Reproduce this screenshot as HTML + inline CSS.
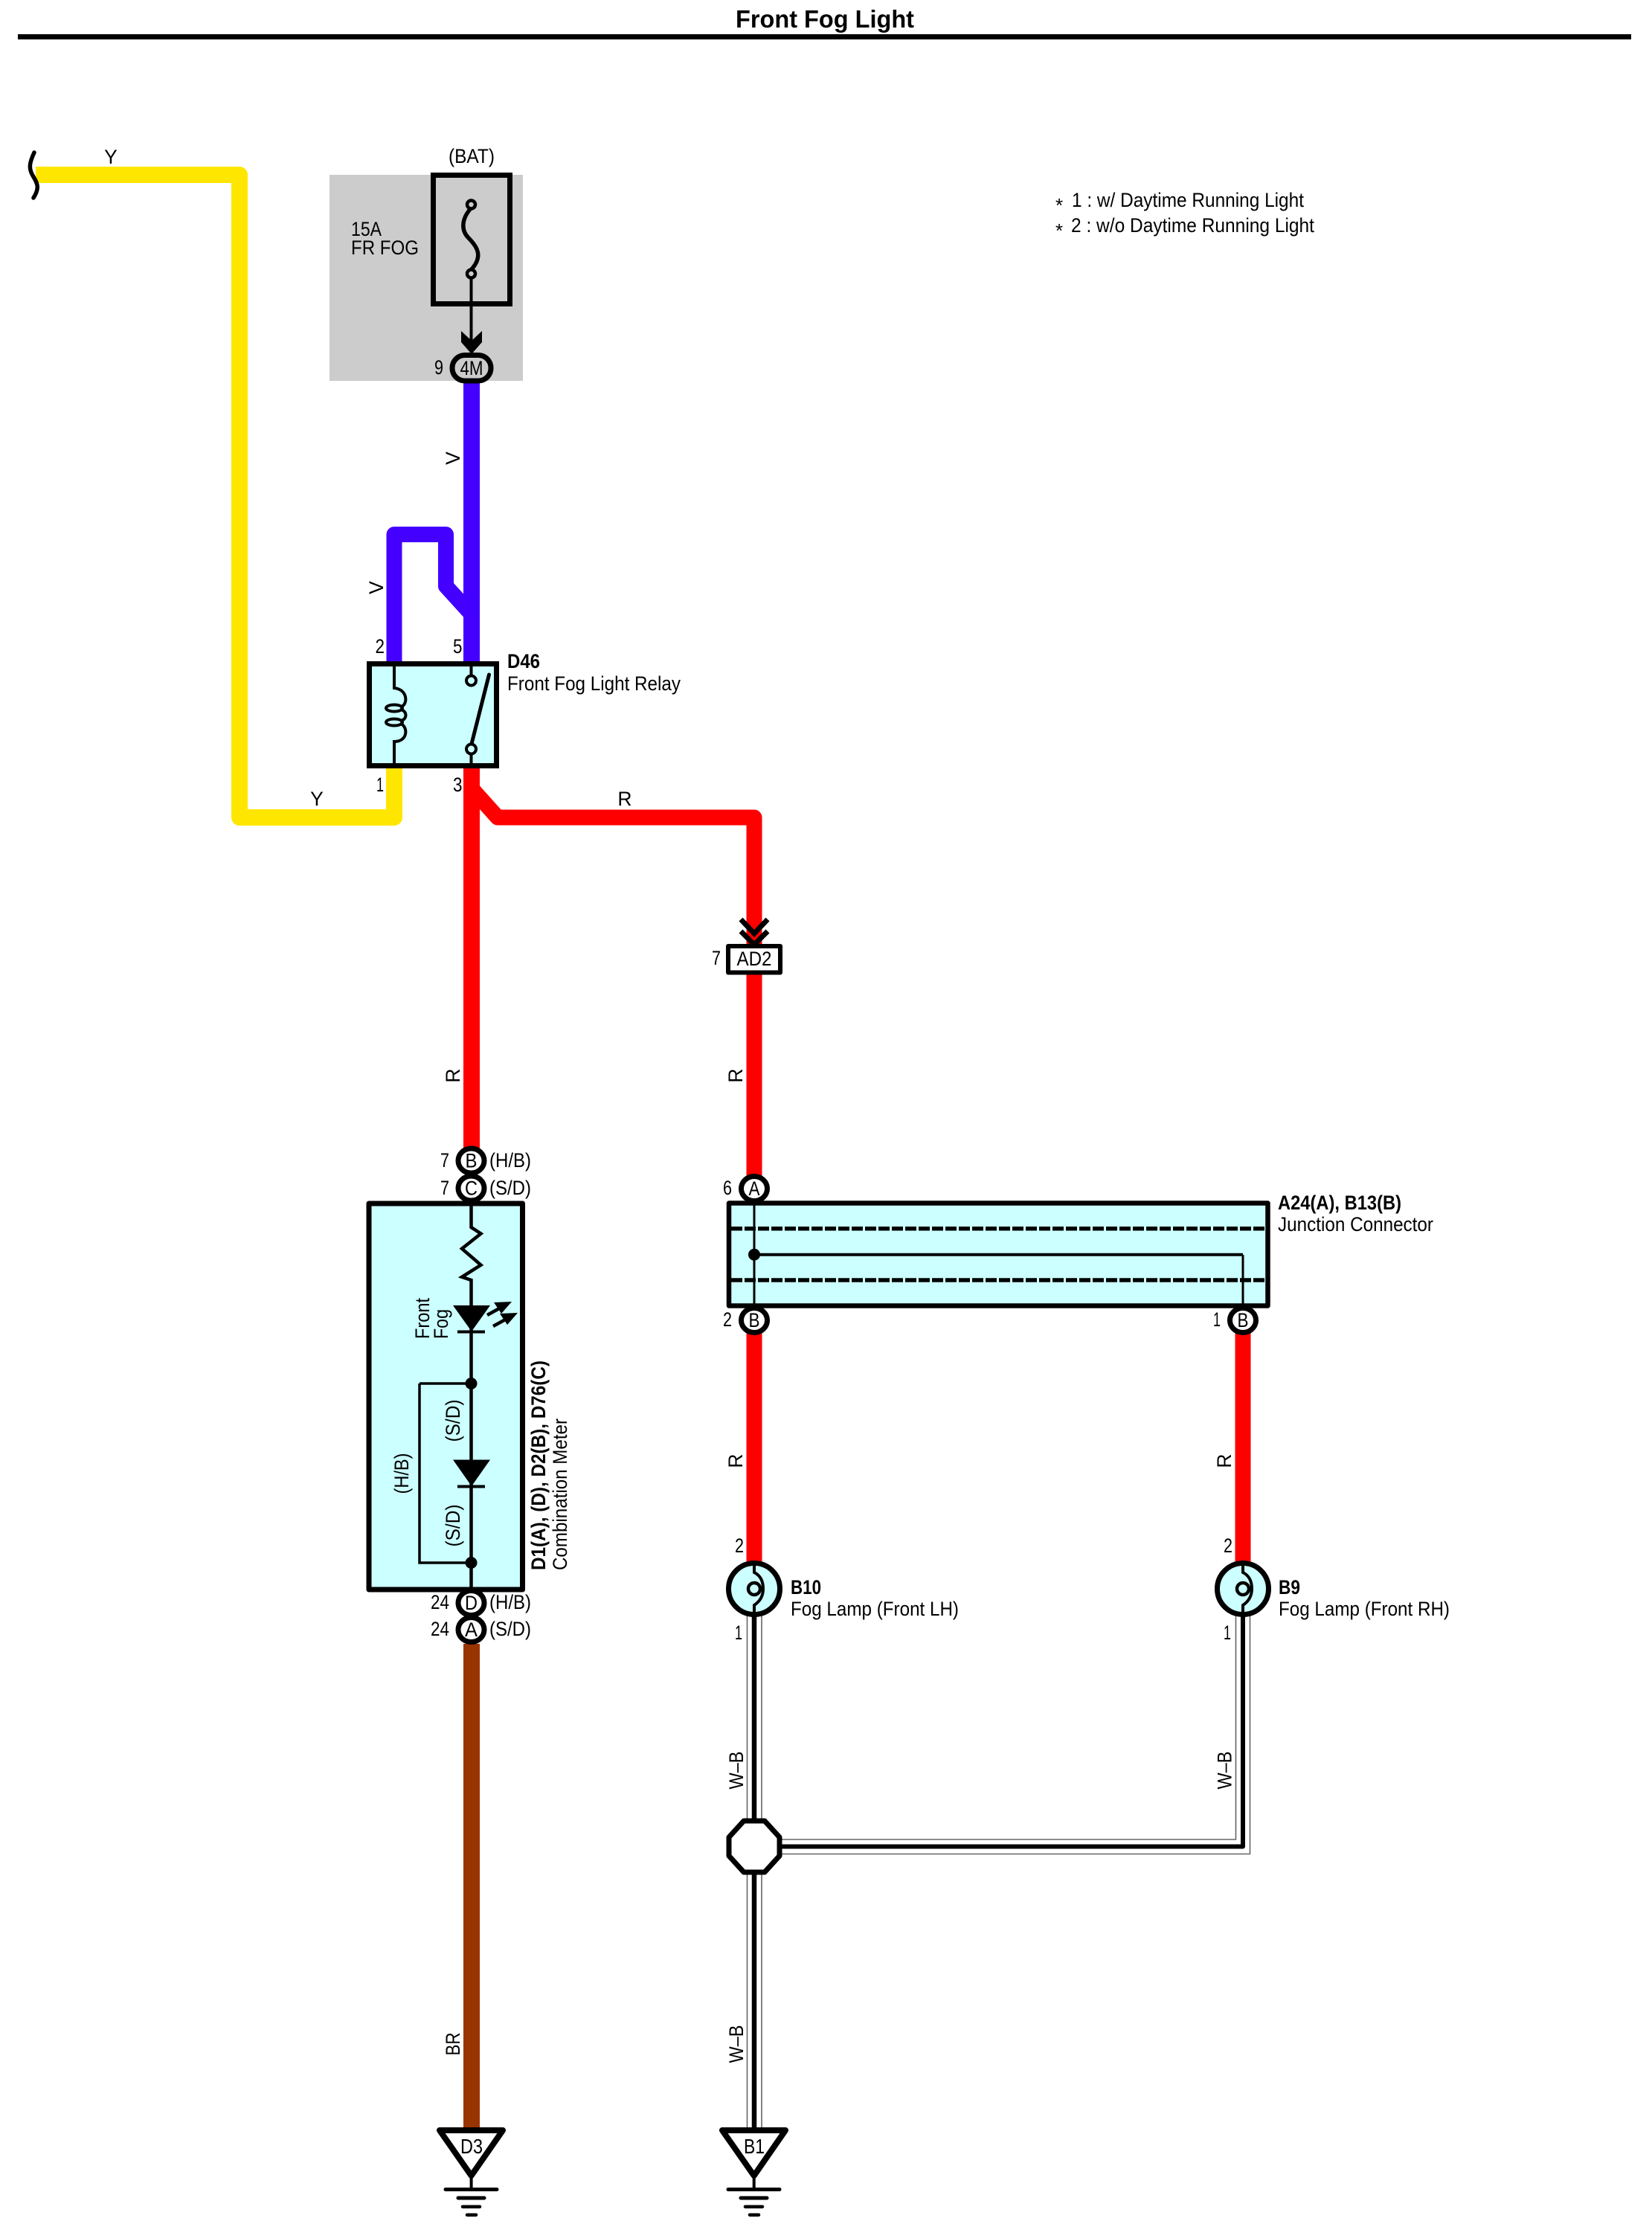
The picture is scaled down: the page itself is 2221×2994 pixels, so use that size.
<!DOCTYPE html>
<html><head><meta charset="utf-8"><title>Front Fog Light</title>
<style>
html,body{margin:0;padding:0;background:#fff}
svg{display:block}
text{font-family:"Liberation Sans",sans-serif;fill:#000;font-size:26.5px}
.b{font-weight:bold}
.m{text-anchor:middle}
.e{text-anchor:end}
</style></head><body>
<svg xmlns="http://www.w3.org/2000/svg" width="2221" height="2994" viewBox="0 0 2221 2994">
<rect width="2221" height="2994" fill="#fff"/>
<!-- title -->
<text x="1109" y="37" class="m" style="font-size:33px;font-weight:bold" textLength="240" lengthAdjust="spacingAndGlyphs">Front Fog Light</text>
<rect x="24" y="46" width="2169" height="7" fill="#000"/>
<!-- notes -->
<text x="1419" y="285" style="font-size:26px">*</text>
<text x="1441" y="278" style="font-size:27px" textLength="312" lengthAdjust="spacingAndGlyphs">1 : w/ Daytime Running Light</text>
<text x="1419" y="319" style="font-size:26px">*</text>
<text x="1440" y="312" style="font-size:27px" textLength="327" lengthAdjust="spacingAndGlyphs">2 : w/o Daytime Running Light</text>

<!-- grey box -->
<rect x="443" y="235" width="260" height="277" fill="#ccc"/>

<!-- wires -->
<g fill="none" stroke-linejoin="round">
<path d="M48 235H322V1099H530V1033" stroke="#ffe600" stroke-width="22"/>
<path d="M634 512V889" stroke="#4400ff" stroke-width="22"/>
<path d="M530 889V718.500H599.500V788L634 826" stroke="#4400ff" stroke-width="21"/>
<path d="M634 1033V1545" stroke="#ff0000" stroke-width="22"/>
<path d="M634 1060L669 1099H1014V1270" stroke="#ff0000" stroke-width="21"/>
<path d="M1014 1305V1582" stroke="#ff0000" stroke-width="21"/>
<path d="M1014 1790V2102" stroke="#ff0000" stroke-width="21"/>
<path d="M1671 1790V2102" stroke="#ff0000" stroke-width="21"/>
<path d="M634 2210V2860" stroke="#993300" stroke-width="22"/>
<!-- W-B -->
<g stroke="#666" stroke-width="1.600">
<path d="M1004.500 2170V2860"/><path d="M1024 2170V2473H1661.500V2170"/><path d="M1024 2492.500H1680.500V2170"/><path d="M1024 2520V2860"/>
</g>
<path d="M1014 2170V2860" stroke="#000" stroke-width="6.500"/>
<path d="M1014 2482.500H1671V2170" stroke="#000" stroke-width="6"/>
</g>

<!-- break -->
<path d="M46 205C40 218 38 226 44 236C50 246 54 252 45 266" fill="none" stroke="#000" stroke-width="5.500" stroke-linecap="round"/>

<!-- fuse -->
<rect x="582.500" y="235.500" width="103" height="173" fill="none" stroke="#000" stroke-width="7"/>
<path d="M633 280C620 295 620 310 630 320C642 332 650 345 633 363" fill="none" stroke="#000" stroke-width="5.500"/>
<circle cx="633.500" cy="275" r="5.500" fill="#ccc" stroke="#000" stroke-width="4.500"/>
<circle cx="633.500" cy="368" r="5.500" fill="#ccc" stroke="#000" stroke-width="4.500"/>
<path d="M633.500 374V460" stroke="#000" stroke-width="4"/>
<polygon points="620,445 634,458 648,445 648,460 634,476 620,460" fill="#000"/>
<rect x="608" y="477.500" width="52" height="34.500" rx="17" ry="17" fill="#ccc" stroke="#000" stroke-width="7"/>
<text x="634" y="504" class="m" textLength="31" lengthAdjust="spacingAndGlyphs">4M</text>
<text x="584" y="503" textLength="12" lengthAdjust="spacingAndGlyphs">9</text>
<text x="634" y="219" class="m" textLength="62" lengthAdjust="spacingAndGlyphs">(BAT)</text>
<text x="472" y="317" textLength="41" lengthAdjust="spacingAndGlyphs">15A</text>
<text x="472" y="342" textLength="91" lengthAdjust="spacingAndGlyphs">FR FOG</text>

<!-- relay -->
<rect x="496.500" y="892.500" width="171" height="137" fill="#ccffff" stroke="#000" stroke-width="7"/>
<g fill="none" stroke="#000" stroke-width="4">
<path d="M530 892V925C550 927 548 950 538 950M538 954C548 955 548 968 538 969M538 973C548 975 550 997 530 997V1030"/>
<ellipse cx="530" cy="952" rx="11" ry="4.500"/>
<ellipse cx="530" cy="971" rx="11" ry="4.500"/>
<path d="M633.500 892V908M633.500 1014V1030"/>
</g>
<path d="M633.500 1002L657.500 907" stroke="#000" stroke-width="5" stroke-linecap="round"/>
<circle cx="633.500" cy="915" r="6.500" fill="#ccffff" stroke="#000" stroke-width="4"/>
<circle cx="633.500" cy="1007" r="6.500" fill="#ccffff" stroke="#000" stroke-width="4"/>
<text x="504.500" y="878" textLength="12.500" lengthAdjust="spacingAndGlyphs">2</text>
<text x="609" y="878" textLength="12.500" lengthAdjust="spacingAndGlyphs">5</text>
<text x="506" y="1064" textLength="10" lengthAdjust="spacingAndGlyphs">1</text>
<text x="609" y="1064" textLength="12.500" lengthAdjust="spacingAndGlyphs">3</text>
<text x="682" y="898" class="b" textLength="44" lengthAdjust="spacingAndGlyphs">D46</text>
<text x="682" y="928" textLength="233" lengthAdjust="spacingAndGlyphs">Front Fog Light Relay</text>

<!-- wire labels -->
<text x="149" y="220" class="m">Y</text>
<text x="426" y="1083" class="m">Y</text>
<text x="840" y="1083" class="m">R</text>
<text transform="translate(618 616) rotate(-90)" class="m">V</text>
<text transform="translate(515 790) rotate(-90)" class="m">V</text>
<text transform="translate(618 1446) rotate(-90)" class="m">R</text>
<text transform="translate(998 1446) rotate(-90)" class="m">R</text>
<text transform="translate(998 1964) rotate(-90)" class="m">R</text>
<text transform="translate(1655 1964) rotate(-90)" class="m">R</text>
<text transform="translate(618 2748) rotate(-90)" class="m" textLength="31" lengthAdjust="spacingAndGlyphs">BR</text>
<text transform="translate(999 2380) rotate(-90)" class="m" textLength="51" lengthAdjust="spacingAndGlyphs">W–B</text>
<text transform="translate(1655.500 2380) rotate(-90)" class="m" textLength="51" lengthAdjust="spacingAndGlyphs">W–B</text>
<text transform="translate(999 2748) rotate(-90)" class="m" textLength="51" lengthAdjust="spacingAndGlyphs">W–B</text>

<!-- AD2 -->
<path d="M996 1236L1014 1255L1032 1236M996 1252L1014 1270L1032 1252" fill="none" stroke="#000" stroke-width="7"/>
<rect x="979" y="1272" width="70" height="35.500" fill="#fff" stroke="#000" stroke-width="6" stroke-linejoin="round"/>
<text x="1014" y="1298" class="m" textLength="47" lengthAdjust="spacingAndGlyphs">AD2</text>
<text x="957" y="1297" textLength="12" lengthAdjust="spacingAndGlyphs">7</text>

<!-- combination meter -->
<rect x="496" y="1618" width="206.500" height="519" fill="#ccffff" stroke="#000" stroke-width="7" stroke-linejoin="round"/>
<g fill="none" stroke="#000" stroke-width="4.500">
<path d="M633.500 1618V1650L646.500 1658.500L621 1678.700L646.500 1700.700L621 1716.800L633.500 1721V2138"/>
<path d="M564 1860H633.500M564 1860V2101H633.500" stroke-width="3.500"/>
</g>
<polygon points="609,1755 659,1755 634,1790" fill="#000"/>
<rect x="615" y="1788.500" width="37" height="4" fill="#000"/>
<polygon points="609,1962.500 659,1962.500 634,1998" fill="#000"/>
<rect x="615" y="1996.500" width="37" height="4" fill="#000"/>
<path d="M655 1768L675 1757M663 1783L683 1772" stroke="#000" stroke-width="4.500" fill="none"/>
<polygon points="688,1750 664,1751 674,1766" fill="#000"/>
<polygon points="696,1765 672,1766 682,1781" fill="#000"/>
<circle cx="633.500" cy="1860" r="8" fill="#000"/>
<circle cx="633.500" cy="2101" r="8" fill="#000"/>
<text transform="translate(577 1800) rotate(-90)" textLength="55" lengthAdjust="spacingAndGlyphs">Front</text>
<text transform="translate(602 1800) rotate(-90)" textLength="40" lengthAdjust="spacingAndGlyphs">Fog</text>
<text transform="translate(618 1910) rotate(-90)" class="m" textLength="57" lengthAdjust="spacingAndGlyphs">(S/D)</text>
<text transform="translate(618 2051) rotate(-90)" class="m" textLength="57" lengthAdjust="spacingAndGlyphs">(S/D)</text>
<text transform="translate(549 1981) rotate(-90)" class="m" textLength="55" lengthAdjust="spacingAndGlyphs">(H/B)</text>
<text transform="translate(733 2111) rotate(-90)" class="b" textLength="282" lengthAdjust="spacingAndGlyphs">D1(A), (D), D2(B), D76(C)</text>
<text transform="translate(762 2111) rotate(-90)" textLength="204" lengthAdjust="spacingAndGlyphs">Combination Meter</text>

<!-- meter connectors -->
<g fill="#fff" stroke="#000" stroke-width="7">
<ellipse cx="633.500" cy="1560.500" rx="17.500" ry="16.500"/>
<ellipse cx="633.500" cy="1597.500" rx="17.500" ry="16.500"/>
<ellipse cx="633.500" cy="2155" rx="17.500" ry="16.500"/>
<ellipse cx="633.500" cy="2191" rx="17.500" ry="16.500"/>
</g>
<text x="633.500" y="1569.500" class="m" textLength="16" lengthAdjust="spacingAndGlyphs">B</text>
<text x="633.500" y="1606.500" class="m" textLength="17" lengthAdjust="spacingAndGlyphs">C</text>
<text x="633.500" y="2164" class="m" textLength="17" lengthAdjust="spacingAndGlyphs">D</text>
<text x="633.500" y="2200" class="m" textLength="17" lengthAdjust="spacingAndGlyphs">A</text>
<text x="592" y="1569" textLength="12" lengthAdjust="spacingAndGlyphs">7</text>
<text x="592" y="1606" textLength="12" lengthAdjust="spacingAndGlyphs">7</text>
<text x="579" y="2163" textLength="25" lengthAdjust="spacingAndGlyphs">24</text>
<text x="579" y="2199" textLength="25" lengthAdjust="spacingAndGlyphs">24</text>
<text x="658" y="1569" textLength="56" lengthAdjust="spacingAndGlyphs">(H/B)</text>
<text x="658" y="1606" textLength="56" lengthAdjust="spacingAndGlyphs">(S/D)</text>
<text x="658" y="2163" textLength="56" lengthAdjust="spacingAndGlyphs">(H/B)</text>
<text x="658" y="2199" textLength="56" lengthAdjust="spacingAndGlyphs">(S/D)</text>

<!-- junction connector -->
<rect x="980" y="1617.500" width="724.500" height="138" fill="#ccffff" stroke="#000" stroke-width="6.500" stroke-linejoin="round"/>
<path d="M983 1651.700H1702M983 1721H1702" fill="none" stroke="#000" stroke-width="5.500" stroke-dasharray="15 3"/>
<path d="M1014 1616V1756M1671 1687V1756" stroke="#000" stroke-width="3" fill="none"/>
<path d="M1014 1686.700H1671" stroke="#000" stroke-width="4" fill="none"/>
<ellipse cx="1014" cy="1686.700" rx="8" ry="8" fill="#000"/>
<g fill="#fff" stroke="#000" stroke-width="7">
<ellipse cx="1014" cy="1598" rx="17.500" ry="16.500"/>
<ellipse cx="1014" cy="1775" rx="17.500" ry="16.500"/>
<ellipse cx="1671" cy="1775" rx="17.500" ry="16.500"/>
</g>
<path d="M1014 1613V1640" stroke="#000" stroke-width="3"/>
<text x="1014" y="1607" class="m" textLength="15" lengthAdjust="spacingAndGlyphs">A</text>
<text x="1014" y="1784" class="m" textLength="15" lengthAdjust="spacingAndGlyphs">B</text>
<text x="1671" y="1784" class="m" textLength="15" lengthAdjust="spacingAndGlyphs">B</text>
<text x="972" y="1606" textLength="12" lengthAdjust="spacingAndGlyphs">6</text>
<text x="972" y="1783" textLength="12" lengthAdjust="spacingAndGlyphs">2</text>
<text x="1631" y="1783" textLength="10" lengthAdjust="spacingAndGlyphs">1</text>
<text x="1718" y="1626" class="b" textLength="166" lengthAdjust="spacingAndGlyphs">A24(A), B13(B)</text>
<text x="1718" y="1655" textLength="209" lengthAdjust="spacingAndGlyphs">Junction Connector</text>

<!-- lamps -->
<g>
<circle cx="1014" cy="2136" r="34.500" fill="#ccffff" stroke="#000" stroke-width="7"/>
<path d="M1014 2100V2114Q1026 2120 1026 2136Q1026 2150 1014 2158V2174" fill="none" stroke="#000" stroke-width="4"/>
<circle cx="1014" cy="2136" r="8" fill="#ccffff" stroke="#000" stroke-width="4.500"/>
<circle cx="1671" cy="2136" r="34.500" fill="#ccffff" stroke="#000" stroke-width="7"/>
<path d="M1671 2100V2114Q1683 2120 1683 2136Q1683 2150 1671 2158V2174" fill="none" stroke="#000" stroke-width="4"/>
<circle cx="1671" cy="2136" r="8" fill="#ccffff" stroke="#000" stroke-width="4.500"/>
</g>
<text x="988" y="2087" textLength="12" lengthAdjust="spacingAndGlyphs">2</text>
<text x="1645" y="2087" textLength="12" lengthAdjust="spacingAndGlyphs">2</text>
<text x="988" y="2204" textLength="10" lengthAdjust="spacingAndGlyphs">1</text>
<text x="1645" y="2204" textLength="10" lengthAdjust="spacingAndGlyphs">1</text>
<text x="1063" y="2143" class="b" textLength="41" lengthAdjust="spacingAndGlyphs">B10</text>
<text x="1063" y="2172" textLength="226" lengthAdjust="spacingAndGlyphs">Fog Lamp (Front LH)</text>
<text x="1719" y="2143" class="b" textLength="29" lengthAdjust="spacingAndGlyphs">B9</text>
<text x="1719" y="2172" textLength="230" lengthAdjust="spacingAndGlyphs">Fog Lamp (Front RH)</text>

<!-- splice -->
<polygon points="1000,2448 1028,2448 1048,2470 1048,2495 1028,2517 1000,2517 980,2495 980,2470" fill="#fff" stroke="#000" stroke-width="7" stroke-linejoin="round"/>

<!-- grounds -->
<g fill="#fff" stroke="#000" stroke-linecap="round">
<polygon points="591,2864 676,2864 633.600,2925" stroke-width="8" stroke-linejoin="round"/>
<path d="M633.600 2925V2943" stroke-width="4"/>
<path d="M599 2943.500H668" stroke-width="5"/>
<path d="M616 2955H651" stroke-width="5"/>
<path d="M622 2966.700H645" stroke-width="4.500"/>
<path d="M628 2977.700H640" stroke-width="4.500"/>
<polygon points="971,2864 1056,2864 1013.700,2925" stroke-width="8" stroke-linejoin="round"/>
<path d="M1013.700 2925V2943" stroke-width="4"/>
<path d="M979 2943.500H1048" stroke-width="5"/>
<path d="M996 2955H1031" stroke-width="5"/>
<path d="M1002 2966.700H1025" stroke-width="4.500"/>
<path d="M1008 2977.700H1020" stroke-width="4.500"/>
</g>
<text x="634" y="2895" class="m" style="font-size:28px" textLength="30" lengthAdjust="spacingAndGlyphs">D3</text>
<text x="1014" y="2895" class="m" style="font-size:28px" textLength="28" lengthAdjust="spacingAndGlyphs">B1</text>
</svg>
</body></html>
